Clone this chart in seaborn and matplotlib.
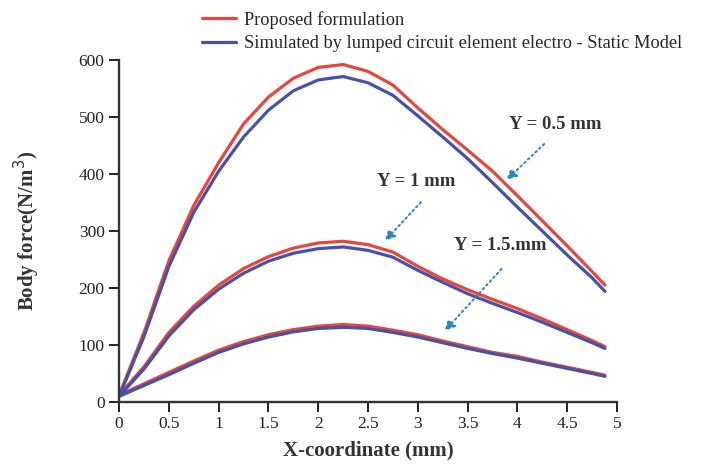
import numpy as np
import pandas as pd
import matplotlib
matplotlib.use("Agg")
import matplotlib.pyplot as plt
import seaborn as sns

# x-coordinate (mm) sampled along the curves
x_mm = [0, 0.25, 0.5, 0.75, 1.0, 1.25, 1.5, 1.75, 2.0, 2.25, 2.5,
        2.75, 3.0, 3.25, 3.5, 3.75, 4.0, 4.25, 4.5, 4.75, 4.88]

# body force (N/m^3), proposed formulation
prop_05 = [12, 122, 248, 345, 420, 488, 535, 568, 587, 592, 580,
           556, 516, 478, 442, 405, 362, 318, 274, 229, 205]
prop_10 = [12, 62, 122, 168, 205, 234, 255, 270, 279, 282, 276,
           263, 238, 216, 197, 180, 164, 146, 127, 108, 97]
prop_15 = [12, 32, 52, 72, 91, 106, 118, 127, 133, 136, 133,
           126, 118, 107, 97, 87, 80, 70, 61, 52, 47]

# body force (N/m^3), lumped circuit element model
sim_05 = [10, 115, 238, 333, 405, 465, 512, 546, 565, 571, 560,
          538, 502, 465, 427, 385, 342, 300, 258, 218, 194]
sim_10 = [10, 58, 116, 162, 198, 226, 247, 261, 269, 272, 266,
          254, 231, 210, 190, 173, 157, 140, 122, 104, 94]
sim_15 = [10, 29, 48, 68, 87, 102, 114, 123, 129, 131, 129,
          122, 114, 104, 94, 85, 77, 68, 59, 50, 45]

methods = ["Proposed formulation",
           "Simulated by lumped circuit element electro - Static Model"]
gaps = ["0.5", "1", "1.5"]

rows = []
for method, series in zip(methods, [[prop_05, prop_10, prop_15],
                                    [sim_05, sim_10, sim_15]]):
    for gap, vals in zip(gaps, series):
        for xv, yv in zip(x_mm, vals):
            rows.append({"x": xv, "force": yv, "method": method, "gap": gap})
df = pd.DataFrame(rows)

sns.set_style("ticks")
plt.rcParams["font.family"] = ["Liberation Serif", "DejaVu Serif"]

fig = plt.figure(figsize=(7.01, 4.65), dpi=100)
ax = fig.add_axes([0.170, 0.1355, 0.710, 0.7355])

palette = {methods[0]: "#e8463c", methods[1]: "#4652a8"}
sns.lineplot(data=df, x="x", y="force", hue="method", units="gap",
             estimator=None, palette=palette, linewidth=2.3, sort=False, ax=ax)

ax.set_xlim(0, 5)
ax.set_ylim(0, 600)
ax.set_xticks(np.arange(0, 5.01, 0.5))
ax.set_xticklabels(["0", "0.5", "1", "1.5", "2", "2.5", "3", "3.5", "4", "4.5", "5"])
ax.set_yticks(range(0, 601, 100))
ax.tick_params(axis="both", labelsize=12.5, length=7, width=1.4, colors="#222222")
ax.tick_params(axis="x", pad=3)
for side in ["left", "bottom"]:
    ax.spines[side].set_linewidth(1.7)
    ax.spines[side].set_color("#333333")
sns.despine(ax=ax)

ax.set_xlabel("X-coordinate (mm)", fontsize=15, fontweight="bold", color="#333333",
              labelpad=6)
ax.set_ylabel("Body force(N/m$^3$)", fontsize=15, fontweight="bold", color="#333333",
              labelpad=26)

# legend above the plot, no frame
handles, labels = ax.get_legend_handles_labels()
ax.legend(handles, labels, loc="upper left", bbox_to_anchor=(0.265, 1.012),
          bbox_transform=fig.transFigure, frameon=False, fontsize=13.2,
          handlelength=1.85, handletextpad=0.4, labelspacing=0.35)

# labels with dotted arrows
arrow_kw = dict(arrowstyle="-|>", color="#2a86c8", lw=1.4, linestyle=":",
                mutation_scale=15)
txt_kw = dict(fontsize=13.5, fontweight="bold", color="#333333",
              ha="center", va="center")
ax.text(4.38, 486, "Y = 0.5 mm", **txt_kw)
ax.annotate("", xy=(3.87, 386), xytext=(4.29, 456), arrowprops=arrow_kw)
ax.text(2.98, 386, "Y = 1 mm", **txt_kw)
ax.annotate("", xy=(2.65, 279), xytext=(3.05, 354), arrowprops=arrow_kw)
ax.text(3.83, 275, "Y = 1.5.mm", **txt_kw)
ax.annotate("", xy=(3.25, 121), xytext=(3.86, 237), arrowprops=arrow_kw)

fig.savefig("out.png", dpi=100)
